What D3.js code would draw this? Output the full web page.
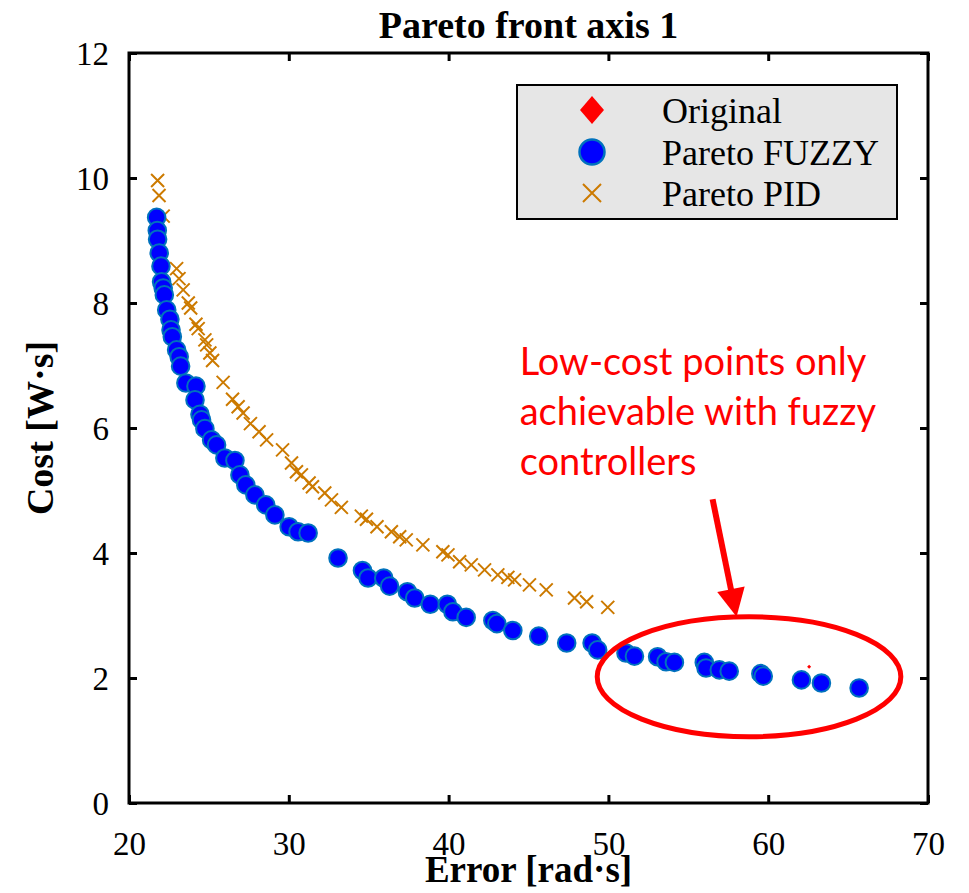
<!DOCTYPE html>
<html>
<head>
<meta charset="utf-8">
<script src="https://cdn.jsdelivr.net/npm/d3@7"></script>
<style>
  html, body { margin: 0; padding: 0; background: #fff; }
  svg { display: block; }
</style>
</head>
<body>
<svg id="chart" width="969" height="893"></svg>
<script>
// ---------------- data ----------------
const fuzzyError = [21.73,21.77,21.79,21.89,22.00,22.04,22.14,22.21,22.36,22.56,22.63,22.71,22.98,23.14,23.23,23.56,24.19,24.13,24.44,24.54,24.75,25.17,25.48,26.00,26.63,26.94,27.31,27.88,28.56,29.13,30.02,30.58,31.21,33.08,34.61,34.96,35.94,36.31,37.42,37.88,38.85,39.92,40.27,41.10,42.77,43.02,44.02,45.64,47.39,48.98,49.33,51.10,51.63,53.08,53.61,54.13,56.00,56.11,56.94,57.56,59.54,59.69,62.08,63.33,65.69];
const fuzzyCost  = [9.37,9.16,9.02,8.80,8.59,8.34,8.24,8.13,7.89,7.74,7.57,7.46,7.25,7.14,6.99,6.72,6.67,6.45,6.22,6.13,5.99,5.81,5.73,5.52,5.48,5.25,5.09,4.93,4.77,4.61,4.42,4.34,4.32,3.92,3.72,3.60,3.60,3.47,3.38,3.28,3.18,3.18,3.06,2.97,2.92,2.87,2.76,2.67,2.56,2.56,2.45,2.40,2.35,2.34,2.26,2.25,2.25,2.16,2.13,2.11,2.07,2.03,1.97,1.92,1.84];

const pidError = [21.79,21.88,22.14,22.98,23.13,23.39,23.71,23.86,24.19,24.33,24.75,24.86,25.06,25.23,25.89,26.48,26.83,27.14,27.60,28.14,28.61,29.61,30.17,30.48,30.79,31.27,31.48,32.25,32.67,33.29,34.54,34.86,35.52,36.42,36.94,37.35,38.39,39.64,39.96,40.69,41.42,42.25,43.08,43.71,44.13,45.06,46.11,47.88,48.64,49.96];
const pidCost  = [9.96,9.72,9.39,8.55,8.39,8.21,8.00,7.92,7.66,7.59,7.41,7.33,7.20,7.08,6.73,6.46,6.34,6.24,6.07,5.94,5.81,5.65,5.44,5.30,5.25,5.12,5.06,4.96,4.85,4.73,4.59,4.54,4.42,4.34,4.26,4.21,4.13,4.02,3.97,3.86,3.81,3.73,3.65,3.61,3.57,3.49,3.41,3.28,3.22,3.13];

const originalError = [62.56];
const originalCost  = [2.18];

const xTicks = [20,30,40,50,60,70];
const yTicks = [0,2,4,6,8,10,12];
const legendLabels = ["Original","Pareto FUZZY","Pareto PID"];
const titleText = "Pareto front axis 1";
const xLabel = "Error [rad\u00B7s]";
const yLabel = "Cost [W\u00B7s]";
const noteLines = ["Low-cost points only","achievable with fuzzy","controllers"];

// annotation anchors in data units
const noteAnchor = {x: 44.45, y: 6.85};
const ellipseSpec = {cx: 58.8, cy: 2.02, rx: 9.5, ry: 0.96};
const arrowSpec = {x1: 56.52, y1: 4.86, x2: 58.02, y2: 2.98};

// ---------------- layout ----------------
const L = 129, R = 928, T = 53, B = 803;
const svg = d3.select("#chart");
const x = d3.scaleLinear().domain([20,70]).range([L,R]);
const y = d3.scaleLinear().domain([0,12]).range([B,T]);

const serif = "'Liberation Serif','Times New Roman',serif";
const BLUE = "#0000ff", EDGE = "#0072bd", ORANGE = "#cc7a00", RED = "#ff0000";

// axes with inward ticks
const gx = svg.append("g").attr("transform", `translate(0,${B})`)
  .call(d3.axisBottom(x).tickValues(xTicks).tickSize(-8).tickSizeOuter(0).tickPadding(34).tickFormat(d3.format("d")));
const gy = svg.append("g").attr("transform", `translate(${L},0)`)
  .call(d3.axisLeft(y).tickValues(yTicks).tickSize(-8).tickSizeOuter(0).tickPadding(20).tickFormat(d3.format("d")));
const gxt = svg.append("g").attr("transform", `translate(0,${T})`)
  .call(d3.axisTop(x).tickValues(xTicks).tickSize(-8).tickSizeOuter(0).tickFormat(""));
const gyr = svg.append("g").attr("transform", `translate(${R},0)`)
  .call(d3.axisRight(y).tickValues(yTicks).tickSize(-8).tickSizeOuter(0).tickFormat(""));
[gx,gy,gxt,gyr].forEach(g => {
  g.select(".domain").remove();
  g.selectAll(".tick line").attr("stroke","#000").attr("stroke-width",3);
  g.selectAll(".tick text").attr("font-family", serif).attr("font-size", 33).attr("fill","#000");
});
gx.selectAll(".tick text").attr("dy","0.35em").attr("y", 40);
gy.selectAll(".tick text").attr("dy","0.35em");

// frame
svg.append("rect").attr("x",L).attr("y",T).attr("width",R-L).attr("height",B-T)
  .attr("fill","none").attr("stroke","#000").attr("stroke-width",3);

// title and labels
svg.append("text").attr("x",(L+R)/2).attr("y",38).attr("text-anchor","middle")
  .attr("font-family",serif).attr("font-weight","bold").attr("font-size",38).text(titleText);
svg.append("text").attr("x",(L+R)/2).attr("y",882).attr("text-anchor","middle")
  .attr("font-family",serif).attr("font-weight","bold").attr("font-size",37).text(xLabel);
svg.append("text").attr("transform",`translate(53,${(T+B)/2}) rotate(-90)`).attr("text-anchor","middle")
  .attr("font-family",serif).attr("font-weight","bold").attr("font-size",38).text(yLabel);

// data
const xPath = s => `M${-s},${-s}L${s},${s}M${-s},${s}L${s},${-s}`;
const diamond = (w,h) => `M0,${-h}L${w},0L0,${h}L${-w},0Z`;

svg.append("g").selectAll("path").data(pidError.map((e,i)=>[e,pidCost[i]])).join("path")
  .attr("transform", d => `translate(${x(d[0])},${y(d[1])})`)
  .attr("d", xPath(6.5)).attr("stroke", ORANGE).attr("stroke-width", 2).attr("fill","none");

svg.append("g").selectAll("circle").data(fuzzyError.map((e,i)=>[e,fuzzyCost[i]])).join("circle")
  .attr("cx", d => x(d[0])).attr("cy", d => y(d[1])).attr("r", 8.8)
  .attr("fill", BLUE).attr("stroke", EDGE).attr("stroke-width", 2);

svg.append("g").selectAll("path").data(originalError.map((e,i)=>[e,originalCost[i]])).join("path")
  .attr("transform", d => `translate(${x(d[0])},${y(d[1])})`)
  .attr("d", diamond(2,2)).attr("fill", RED);

// legend
const lg = svg.append("g");
lg.append("rect").attr("x",517).attr("y",85).attr("width",380).attr("height",134)
  .attr("fill","#e6e6e6").attr("stroke","#000").attr("stroke-width",2);
const rowY = [110, 152, 193];
lg.append("path").attr("transform",`translate(592,${rowY[0]})`).attr("d",diamond(12,14)).attr("fill",RED);
lg.append("circle").attr("cx",592).attr("cy",rowY[1]).attr("r",12.5).attr("fill",BLUE).attr("stroke",EDGE).attr("stroke-width",2.5);
lg.append("path").attr("transform",`translate(592,${rowY[2]})`).attr("d",xPath(9)).attr("stroke",ORANGE).attr("stroke-width",2).attr("fill","none");
legendLabels.forEach((t,i) => {
  lg.append("text").attr("x",662).attr("y",rowY[i]).attr("dy","0.35em")
    .attr("font-family",serif).attr("font-size",36).text(t);
});

// annotation
const ng = svg.append("g");
ng.append("ellipse").attr("cx",x(ellipseSpec.cx)).attr("cy",y(ellipseSpec.cy))
  .attr("rx",x(20+ellipseSpec.rx)-x(20)).attr("ry",y(0)-y(ellipseSpec.ry))
  .attr("fill","none").attr("stroke",RED).attr("stroke-width",5);
{
  const x1 = x(arrowSpec.x1), y1 = y(arrowSpec.y1), x2 = x(arrowSpec.x2), y2 = y(arrowSpec.y2);
  const dx = x2-x1, dy = y2-y1, len = Math.hypot(dx,dy), ux = dx/len, uy = dy/len;
  const hl = 28, hw = 14;
  const bx = x2-ux*hl, by = y2-uy*hl;
  ng.append("line").attr("x1",x1).attr("y1",y1).attr("x2",bx+ux*2).attr("y2",by+uy*2)
    .attr("stroke",RED).attr("stroke-width",6);
  ng.append("path").attr("d",`M${x2},${y2}L${bx-uy*hw},${by+ux*hw}L${bx+uy*hw},${by-ux*hw}Z`).attr("fill",RED);
}
noteLines.forEach((t,i) => {
  ng.append("text").attr("x",x(noteAnchor.x)).attr("y",y(noteAnchor.y)+i*50)
    .attr("font-family","Lato, 'Open Sans', sans-serif").attr("font-size",38).attr("fill",RED).text(t);
});
</script>
</body>
</html>
